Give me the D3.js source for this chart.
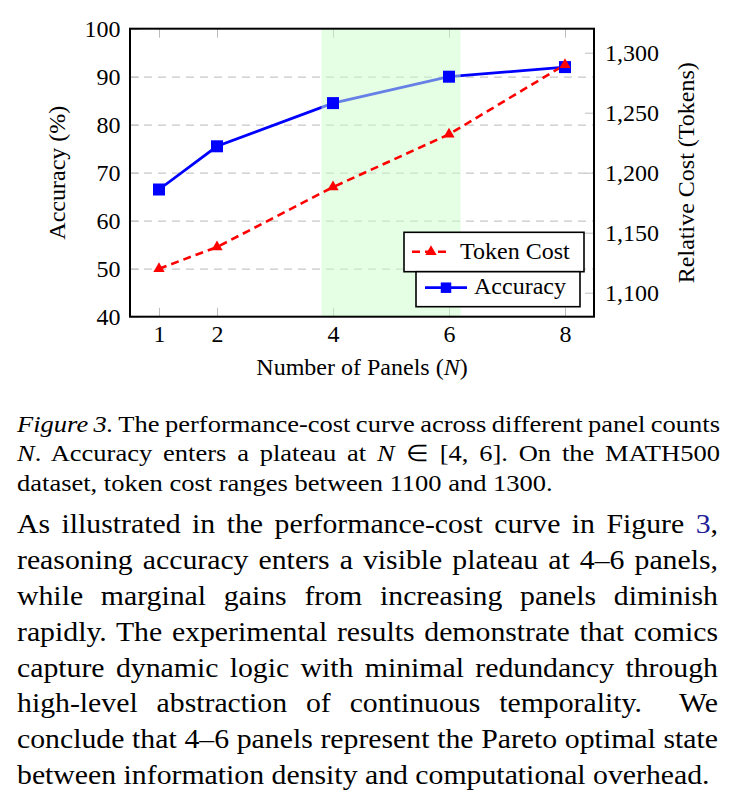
<!DOCTYPE html>
<html>
<head>
<meta charset="utf-8">
<script src="https://cdn.jsdelivr.net/npm/d3@7"></script>
<style>
  body { margin: 0; background: #fff; }
  svg { display: block; }
  text { font-family: "Liberation Serif", "Times New Roman", serif; }
</style>
</head>
<body>
<script>
// chart data
var panels = [1, 2, 4, 6, 8];
var accuracy = [66.5, 75.5, 84.5, 90.0, 92.0];
var tokenCost = [1120, 1138, 1188, 1232, 1290];
var plateau = [3.8, 6.2];
var accTicks = [40, 50, 60, 70, 80, 90, 100];
var gridTicks = [50, 60, 70, 80, 90];
var costTicks = [1100, 1150, 1200, 1250, 1300];
var legendLabels = ["Token Cost", "Accuracy"];

// caption + paragraph text (one entry per printed line)
var captionLines = [
  [{t: "Figure 3.", i: true}, {t: " The performance-cost curve across different panel counts"}],
  [{t: "N", i: true}, {t: ". Accuracy enters a plateau at "}, {t: "N", i: true}, {t: " \u2208 [4, 6]. On the MATH500"}],
  [{t: "dataset, token cost ranges between 1100 and 1300."}]
];
var paraLines = [
  [{t: "As illustrated in the performance-cost curve in Figure "}, {t: "3", c: "#1f1f99"}, {t: ","}],
  [{t: "reasoning accuracy enters a visible plateau at 4\u20136 panels,"}],
  [{t: "while marginal gains from increasing panels diminish"}],
  [{t: "rapidly. The experimental results demonstrate that comics"}],
  [{t: "capture dynamic logic with minimal redundancy through"}],
  [{t: "high-level abstraction of continuous temporality.\u00a0 We"}],
  [{t: "conclude that 4\u20136 panels represent the Pareto optimal state"}],
  [{t: "between information density and computational overhead."}]
];

var margin = {top: 28.7, left: 130},
    width = 464,
    height = 288;

var svg = d3.select('body')
  .append('svg')
    .attr('width', 739)
    .attr('height', 807);

var g = svg.append('g')
    .attr('transform', 'translate(' + margin.left + ',' + margin.top + ')');

var x = d3.scaleLinear().domain([0.5, 8.5]).range([0, width]);
var yAcc = d3.scaleLinear().domain([40, 100]).range([height, 0]);
var yCost = d3.scaleLinear().domain([1080, 1320]).range([height, 0]);

var tickGray = '#bdbdbd';

// dashed grid from the left axis
var grid = g.append('g')
  .call(d3.axisLeft(yAcc).tickValues(gridTicks).tickSize(-width).tickFormat(''));
grid.select('.domain').remove();
grid.selectAll('line')
  .attr('stroke', '#c8c8c8')
  .attr('stroke-width', 1.2)
  .attr('stroke-dasharray', '8,6');

function styleAxis(sel) {
  sel.select('.domain').remove();
  sel.selectAll('line').attr('stroke', tickGray);
  sel.selectAll('text')
    .attr('font-family', '"Liberation Serif", serif')
    .attr('font-size', 24)
    .attr('fill', '#000');
}

// left axis
g.append('g')
  .call(d3.axisLeft(yAcc).tickValues(accTicks).tickSize(-9).tickPadding(9.5))
  .call(styleAxis)
  .selectAll('text').attr('dy', '0.34em');

// right axis
g.append('g')
  .attr('transform', 'translate(' + width + ',0)')
  .call(d3.axisRight(yCost).tickValues(costTicks).tickSize(-9).tickPadding(11).tickFormat(d3.format(',')))
  .call(styleAxis)
  .selectAll('text').attr('dy', '0.34em');

// bottom axis
g.append('g')
  .attr('transform', 'translate(0,' + height + ')')
  .call(d3.axisBottom(x).tickValues(panels).tickSize(-9).tickPadding(0))
  .call(styleAxis)
  .selectAll('text').attr('dy', null).attr('y', 25.5);

// top ticks
g.append('g')
  .call(d3.axisTop(x).tickValues(panels).tickSize(-9).tickFormat(''))
  .call(styleAxis);

var accData = panels.map(function(n, i) { return {n: n, v: accuracy[i]}; });
var costData = panels.map(function(n, i) { return {n: n, v: tokenCost[i]}; });

// accuracy line
g.append('path')
  .datum(accData)
  .attr('fill', 'none')
  .attr('stroke', '#0000ff')
  .attr('stroke-width', 2.8)
  .attr('d', d3.line().x(function(d) { return x(d.n); }).y(function(d) { return yAcc(d.v); }));

// plateau band
g.append('rect')
  .attr('x', x(plateau[0]))
  .attr('y', 0)
  .attr('width', x(plateau[1]) - x(plateau[0]))
  .attr('height', height)
  .attr('fill', '#ccffcc')
  .attr('opacity', 0.5);

// token cost line
g.append('path')
  .datum(costData)
  .attr('fill', 'none')
  .attr('stroke', '#ff0000')
  .attr('stroke-width', 2.6)
  .attr('stroke-dasharray', '8,5')
  .attr('d', d3.line().x(function(d) { return x(d.n); }).y(function(d) { return yCost(d.v); }));

// markers
g.selectAll('.sq')
  .data(accData)
  .enter()
  .append('path')
    .attr('class', 'sq')
    .attr('transform', function(d) { return 'translate(' + x(d.n) + ',' + yAcc(d.v) + ')'; })
    .attr('d', d3.symbol(d3.symbolSquare).size(144))
    .attr('fill', '#0000ff');

g.selectAll('.tri')
  .data(costData)
  .enter()
  .append('path')
    .attr('class', 'tri')
    .attr('transform', function(d) { return 'translate(' + x(d.n) + ',' + yCost(d.v) + ')'; })
    .attr('d', d3.symbol(d3.symbolTriangle).size(55))
    .attr('fill', '#ff0000');

// frame
g.append('rect')
  .attr('width', width)
  .attr('height', height)
  .attr('fill', 'none')
  .attr('stroke', '#000')
  .attr('stroke-width', 2);

// axis titles
var xt = g.append('text')
  .attr('x', width / 2)
  .attr('y', 375 - margin.top)
  .attr('text-anchor', 'middle')
  .attr('font-size', 24);
xt.append('tspan').text('Number of Panels (');
xt.append('tspan').attr('font-style', 'italic').text('N');
xt.append('tspan').text(')');

svg.append('text')
  .attr('transform', 'translate(65,' + (margin.top + height / 2) + ') rotate(-90)')
  .attr('text-anchor', 'middle')
  .attr('font-size', 24)
  .text('Accuracy (%)');

svg.append('text')
  .attr('transform', 'translate(694,' + (margin.top + height / 2) + ') rotate(-90)')
  .attr('text-anchor', 'middle')
  .attr('font-size', 24)
  .text('Relative Cost (Tokens)');

// legend (two stacked boxes)
var lg = svg.append('g');
lg.append('rect')
  .attr('x', 404).attr('y', 232.3).attr('width', 180).attr('height', 39.4)
  .attr('fill', '#fff').attr('stroke', '#000').attr('stroke-width', 1.6);
lg.append('rect')
  .attr('x', 416).attr('y', 271.7).attr('width', 164).attr('height', 35)
  .attr('fill', '#fff').attr('stroke', '#000').attr('stroke-width', 1.6);

lg.append('line')
  .attr('x1', 412).attr('x2', 450).attr('y1', 251.7).attr('y2', 251.7)
  .attr('stroke', '#ff0000').attr('stroke-width', 2.6).attr('stroke-dasharray', '8,5');
lg.append('path')
  .attr('transform', 'translate(431,251.7)')
  .attr('d', d3.symbol(d3.symbolTriangle).size(55))
  .attr('fill', '#ff0000');
lg.append('line')
  .attr('x1', 425).attr('x2', 467).attr('y1', 287.7).attr('y2', 287.7)
  .attr('stroke', '#0000ff').attr('stroke-width', 2.8);
lg.append('path')
  .attr('transform', 'translate(446,287.7)')
  .attr('d', d3.symbol(d3.symbolSquare).size(110))
  .attr('fill', '#0000ff');

lg.append('text').attr('x', 460).attr('y', 258.5).attr('font-size', 24).text(legendLabels[0]);
lg.append('text').attr('x', 474).attr('y', 294).attr('font-size', 24).text(legendLabels[1]);

// justified text blocks
function drawBlock(lines, opt) {
  var blk = svg.append('g').attr('font-size', opt.size);
  var rows = blk.selectAll('text')
    .data(lines)
    .join('text')
      .attr('x', 0)
      .attr('y', function(d, i) { return opt.y0 + i * opt.lh; });
  rows.selectAll('tspan')
    .data(function(d) { return d; })
    .join('tspan')
      .attr('font-style', function(d) { return d.i ? 'italic' : null; })
      .attr('fill', function(d) { return d.c || '#000'; })
      .text(function(d) { return d.t; });

  var last = rows.nodes()[lines.length - 1];
  var sx = opt.lastW / last.getComputedTextLength();
  blk.attr('transform', 'translate(' + opt.x0 + ',0) scale(' + sx + ',1)');

  rows.each(function(d, i) {
    if (i === lines.length - 1) return;
    var nat = this.getComputedTextLength();
    var s = d.map(function(p) { return p.t; }).join('');
    var gaps = s.split(/[ \u00a0]/).length - 1;
    d3.select(this).attr('word-spacing', (opt.w / sx - nat) / gaps);
  });
}

drawBlock(captionLines, {x0: 17, y0: 431.7, lh: 29.5, size: 23.5, w: 703, lastW: 536});
drawBlock(paraLines, {x0: 17, y0: 533, lh: 35.9, size: 27, w: 701, lastW: 693});
</script>
</body>
</html>
